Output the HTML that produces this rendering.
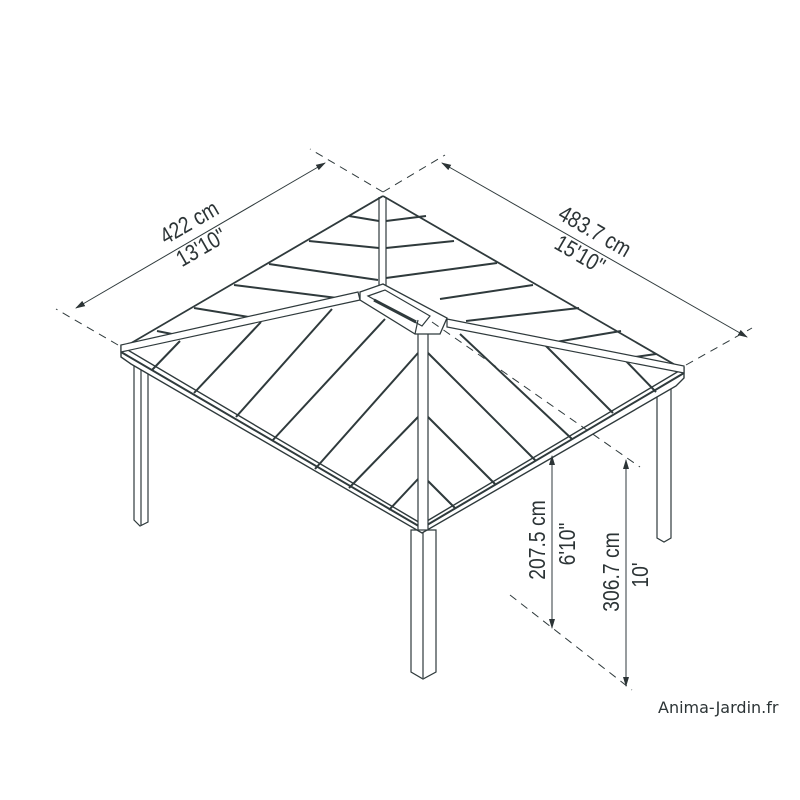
<!DOCTYPE html>
<html><head><meta charset="utf-8"><style>
html,body{margin:0;padding:0;background:#fff;}
svg{display:block;}
text{font-family:"Liberation Sans",sans-serif;fill:#2c3436;}
</style></head><body>
<svg width="800" height="800" viewBox="0 0 800 800" xmlns="http://www.w3.org/2000/svg">
<defs>
<marker id="ar" markerWidth="10" markerHeight="8" refX="9" refY="4" orient="auto" markerUnits="userSpaceOnUse">
<path d="M0,1 L10,4 L0,7 Z" fill="#2c3436"/></marker>
<marker id="al" markerWidth="10" markerHeight="8" refX="1" refY="4" orient="auto" markerUnits="userSpaceOnUse">
<path d="M10,1 L0,4 L10,7 Z" fill="#2c3436"/></marker>
</defs>
<g stroke="#2f3a3c" fill="none" stroke-width="1.2">
<polygon points="134,366 148,370 148,522 140,526 134,520" fill="#fff"/>
<line x1="141" y1="368" x2="141" y2="525"/>
<polygon points="411,530 436,530 436,672 423,679 411,672" fill="#fff"/>
<line x1="423" y1="532" x2="423" y2="678"/>
<polygon points="657,392 671,388 671,538 664,542 657,538" fill="#fff"/>
<polygon points="121,346 422,524 684,368 684,378 676,386 422,533 131,364 121,357" fill="#fff" stroke-width="1.4"/>
<line x1="121" y1="352" x2="422" y2="528" stroke-width="2"/>
<line x1="422" y1="528" x2="684" y2="373" stroke-width="2"/>
<line x1="121" y1="349" x2="383" y2="196" stroke-width="1.8"/>
<line x1="383" y1="196" x2="684" y2="370" stroke-width="1.8"/>
<line x1="379" y1="197" x2="379" y2="287"/>
<line x1="386" y1="197" x2="386" y2="287"/>
<g stroke-width="2">
<line x1="349" y1="216" x2="379" y2="221"/>
<line x1="309" y1="241" x2="379" y2="248"/>
<line x1="269" y1="264" x2="378" y2="280"/>
<line x1="234" y1="285" x2="345" y2="299"/>
<line x1="194" y1="308" x2="261" y2="319"/>
<line x1="157" y1="331" x2="182" y2="336"/>
<line x1="386" y1="221" x2="426" y2="216"/>
<line x1="386" y1="248" x2="454" y2="241"/>
<line x1="386" y1="278" x2="497" y2="263"/>
<line x1="440" y1="299" x2="533" y2="285"/>
<line x1="466" y1="321" x2="579" y2="308"/>
<line x1="544" y1="344" x2="621" y2="331"/>
<line x1="621" y1="359" x2="656" y2="354"/>
<line x1="180" y1="341" x2="152" y2="370"/>
<line x1="261" y1="322" x2="194" y2="393"/>
<line x1="332" y1="309" x2="236" y2="417"/>
<line x1="385" y1="319" x2="272" y2="441"/>
<line x1="418" y1="353" x2="315" y2="469"/>
<line x1="418" y1="417" x2="349" y2="488"/>
<line x1="418" y1="479" x2="389" y2="510"/>
<line x1="428" y1="353" x2="536" y2="461"/>
<line x1="428" y1="417" x2="495" y2="484"/>
<line x1="428" y1="481" x2="455" y2="508"/>
<line x1="460" y1="334" x2="572" y2="439"/>
<line x1="544" y1="344" x2="613" y2="413"/>
<line x1="625" y1="360" x2="656" y2="392"/>
</g>
<polygon points="358,292 121,345 121,352 360,300" fill="#fff"/>
<polygon points="447,319 684,366 684,373 447,327" fill="#fff"/>
<rect x="418" y="330" width="10" height="200" fill="#fff"/>
<polygon points="360,292 383,284 447,318 440,334 415,334 360,300" fill="#fff" stroke-width="1.3"/>
<polygon points="368,296 385,290 430,316 422,326" fill="#fff"/>
<line x1="374" y1="300" x2="416" y2="322" stroke-width="3"/>
<line x1="415" y1="334" x2="418" y2="320"/>
</g>
<g stroke="#2f3a3c" stroke-width="1" fill="none">
<line x1="383" y1="192" x2="310" y2="149" stroke-dasharray="8,6"/>
<line x1="383" y1="192" x2="445" y2="155" stroke-dasharray="8,6"/>
<line x1="118" y1="345" x2="56" y2="309" stroke-dasharray="8,6"/>
<line x1="686" y1="365" x2="752" y2="328" stroke-dasharray="8,6"/>
<line x1="76" y1="308" x2="325" y2="163" marker-start="url(#al)" marker-end="url(#ar)"/>
<line x1="442" y1="163" x2="747" y2="337" marker-start="url(#al)" marker-end="url(#ar)"/>
<line x1="432" y1="322" x2="640" y2="467" stroke-dasharray="8,6"/>
<line x1="510" y1="595" x2="632" y2="690" stroke-dasharray="8,6"/>
<line x1="552" y1="456" x2="552" y2="628" marker-start="url(#al)" marker-end="url(#ar)"/>
<line x1="626" y1="460" x2="626" y2="686" marker-start="url(#al)" marker-end="url(#ar)"/>
</g>
<g font-size="23">
<text transform="translate(193,229) rotate(-30) scale(0.84,1)" text-anchor="middle">422 cm</text>
<text transform="translate(205,254) rotate(-30) scale(0.84,1)" text-anchor="middle">13'10"</text>
<text transform="translate(591,238) rotate(30) scale(0.84,1)" text-anchor="middle">483.7 cm</text>
<text transform="translate(576,261) rotate(30) scale(0.84,1)" text-anchor="middle">15'10"</text>
<text transform="translate(545,540) rotate(-90) scale(0.84,1)" text-anchor="middle">207.5 cm</text>
<text transform="translate(575,544) rotate(-90) scale(0.84,1)" text-anchor="middle">6'10"</text>
<text transform="translate(619,572) rotate(-90) scale(0.84,1)" text-anchor="middle">306.7 cm</text>
<text transform="translate(648,575) rotate(-90) scale(0.84,1)" text-anchor="middle">10'</text>
</g>
<text x="658" y="713" font-size="16" style="font-family:'DejaVu Sans',sans-serif">Anima-Jardin.fr</text>
</svg>
</body></html>
